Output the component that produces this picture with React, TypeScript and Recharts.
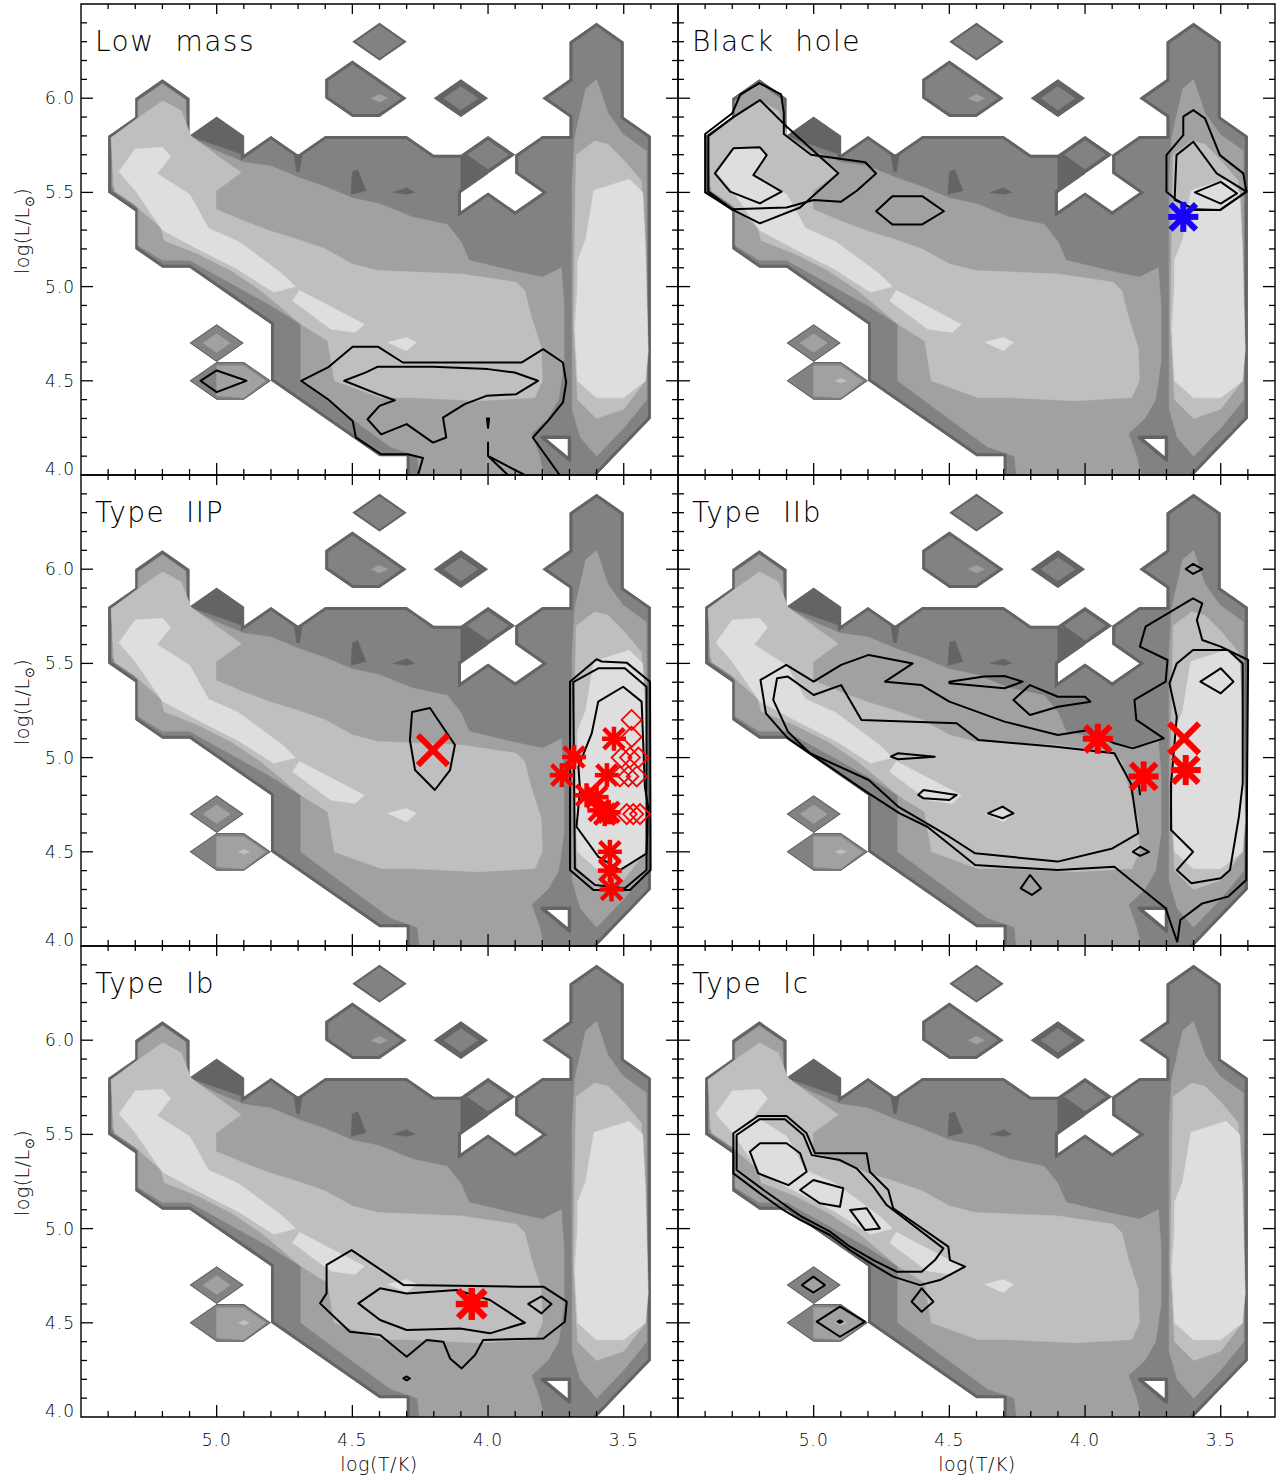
import React from 'react';
import { ScatterChart, Scatter, XAxis, YAxis } from 'recharts';

// ---------------- axes ----------------
const xDomain: [number, number] = [3.3, 5.5];
const yDomain: [number, number] = [4.0, 6.5];
const xMajorTicks = [5.0, 4.5, 4.0, 3.5];
const xMinorTicks = [5.4, 5.3, 5.2, 5.1, 4.9, 4.8, 4.7, 4.6, 4.4, 4.3, 4.2, 4.1, 3.9, 3.8, 3.7, 3.6, 3.4];
const yMajorTicks = [4.5, 5.0, 5.5, 6.0];
const yMinorTicks = [4.1, 4.2, 4.3, 4.4, 4.6, 4.7, 4.8, 4.9, 5.1, 5.2, 5.3, 5.4, 5.6, 5.7, 5.8, 5.9, 6.1, 6.2, 6.3, 6.4];
const xTickLabels = [5.0, 4.5, 4.0, 3.5];
const yTickLabels = [4.0, 4.5, 5.0, 5.5, 6.0];
const frameCorners = [[5.5, 4.0], [3.3, 4.0], [3.3, 6.5], [5.5, 6.5]];

// ---------------- shared background (filled density contours) ----------------
const bgOuterMain = [
  [5.4, 5.5], [5.4, 5.8], [5.3, 5.9], [5.3, 6.0], [5.2, 6.1], [5.1, 6.0], [5.1, 5.8], [5.0, 5.9], [4.9, 5.8], [4.9, 5.7],
  [4.8, 5.8], [4.7, 5.7], [4.6, 5.8], [4.3, 5.8], [4.2, 5.7], [4.1, 5.7], [4.0, 5.6], [4.1, 5.5], [4.1, 5.4], [4.0, 5.5],
  [3.9, 5.4], [3.8, 5.5], [3.9, 5.6], [3.9, 5.7], [3.8, 5.8], [3.7, 5.8], [3.7, 5.9], [3.8, 6.0], [3.7, 6.1], [3.7, 6.3],
  [3.6, 6.4], [3.5, 6.3], [3.5, 5.9], [3.4, 5.8], [3.4, 4.3], [3.6, 4.0], [3.6, 3.97], [4.3, 3.97], [4.3, 4.1], [4.4, 4.1],
  [4.8, 4.5], [4.8, 4.8], [5.1, 5.1], [5.2, 5.1], [5.3, 5.2], [5.3, 5.4],
];
const bgOuterDiamondTop = [[4.5, 6.3], [4.4, 6.4], [4.3, 6.3], [4.4, 6.2]];
const bgOuterBlob = [[4.6, 6.1], [4.5, 6.2], [4.4, 6.1], [4.3, 6.0], [4.4, 5.9], [4.5, 5.9], [4.6, 6.0]];
const bgOuterDiamondMid = [[4.2, 6.0], [4.1, 6.1], [4.0, 6.0], [4.1, 5.9]];
const bgOuterDiamondNotch = [[4.1, 5.7], [4.0, 5.8], [3.9, 5.7], [4.0, 5.6]];
const bgOuterDiamondLow = [[5.1, 4.7], [5.0, 4.8], [4.9, 4.7], [5.0, 4.6]];
const bgOuterHex = [[5.1, 4.5], [5.0, 4.6], [4.9, 4.6], [4.8, 4.5], [4.9, 4.4], [5.0, 4.4]];
const bgHoleBottom = [[3.8, 4.2], [3.7, 4.2], [3.7, 4.08]];

const bgDarkTop = [[5.1, 5.8], [5.0, 5.9], [4.9, 5.8], [4.9, 5.7]];
const bgDarkSpike = [[4.715, 5.7], [4.685, 5.7], [4.695, 5.61], [4.705, 5.61]];
const bgDarkSpot = [[4.5, 5.61], [4.48, 5.62], [4.45, 5.51], [4.505, 5.49]];
const bgDarkNotch = [[4.1, 5.7], [4.0, 5.6], [4.1, 5.5]];
const bgDarkSliver = [[4.35, 5.5], [4.3, 5.525], [4.27, 5.5], [4.3, 5.49]];
const bgDarkSliver2 = [[3.805, 4.95], [3.795, 4.95], [3.79, 4.87], [3.8, 4.85]];

const bgMidMain = [
  [5.385, 5.53], [5.385, 5.79], [5.29, 5.885], [5.29, 5.985], [5.2, 6.075], [5.115, 5.99], [5.11, 5.8], [5.0, 5.72],
  [4.9, 5.66], [4.8, 5.64], [4.7, 5.58], [4.6, 5.53], [4.5, 5.47], [4.4, 5.44], [4.28, 5.37], [4.15, 5.33], [4.1, 5.24],
  [4.07, 5.14], [3.9, 5.08], [3.8, 5.05], [3.73, 5.1], [3.72, 4.9], [3.72, 4.6], [3.74, 4.4], [3.78, 4.3], [3.84, 4.22],
  [3.81, 4.1], [3.79, 3.97], [4.25, 3.97], [4.26, 4.1], [4.36, 4.15], [4.55, 4.35], [4.69, 4.5], [4.69, 4.8], [4.8, 4.9],
  [5.1, 5.14], [5.2, 5.14], [5.29, 5.22], [5.29, 5.42],
];
const bgMidColumn = [
  [3.69, 5.55], [3.681, 5.79], [3.64, 6.05], [3.6, 6.1], [3.558, 5.92], [3.503, 5.81], [3.417, 5.72],
  [3.415, 4.4], [3.5, 4.25], [3.6, 4.1], [3.66, 4.2], [3.69, 4.35],
];
const bgMidBlob = [[4.43, 6.0], [4.4, 6.02], [4.37, 6.0], [4.4, 5.98]];
const bgMidDiamondLow = [[5.05, 4.7], [5.0, 4.75], [4.95, 4.7], [5.0, 4.65]];
const bgMidHex = [[5.0, 4.58], [4.9, 4.58], [4.82, 4.5], [4.9, 4.41], [5.0, 4.42]];

const bgLightMain = [
  [5.38, 5.55], [5.389, 5.79], [5.297, 5.888], [5.199, 5.986], [5.131, 5.933], [5.095, 5.8], [4.996, 5.693], [4.91, 5.605],
  [5.003, 5.507], [5.003, 5.41], [4.898, 5.347], [4.8, 5.294], [4.7, 5.25], [4.6, 5.2], [4.5, 5.12], [4.406, 5.085],
  [4.099, 5.067], [3.896, 5.023], [3.865, 4.979], [3.84, 4.837], [3.804, 4.677], [3.8, 4.5], [3.828, 4.411], [4.037, 4.394],
  [4.283, 4.411], [4.394, 4.411], [4.566, 4.5], [4.591, 4.713], [4.689, 4.8], [4.763, 4.89], [4.837, 4.979], [4.947, 5.085],
  [5.07, 5.174], [5.193, 5.245], [5.205, 5.312], [5.303, 5.436], [5.377, 5.507],
];
const bgLightColumn = [
  [3.675, 5.7], [3.607, 5.773], [3.558, 5.755], [3.497, 5.667], [3.435, 5.56], [3.42, 4.5], [3.5, 4.35], [3.6, 4.3],
  [3.67, 4.4], [3.685, 4.8], [3.68, 5.3],
];
const bgLightHex = [[4.92, 4.5], [4.9, 4.512], [4.88, 4.5], [4.9, 4.488]];

const bgPaleWing = [
  [5.36, 5.61], [5.3, 5.73], [5.2, 5.74], [5.17, 5.69], [5.22, 5.6], [5.1, 5.49], [5.03, 5.31], [4.92, 5.24], [4.76, 5.07],
  [4.71, 5.0], [4.79, 4.97], [4.92, 5.09], [5.07, 5.2], [5.2, 5.3], [5.3, 5.51],
];
const bgPaleStrip = [[4.72, 4.925], [4.695, 4.98], [4.456, 4.8], [4.49, 4.757], [4.58, 4.775]];
const bgPaleSpot = [[4.369, 4.704], [4.301, 4.73], [4.264, 4.704], [4.301, 4.66]];
const bgPaleColumn = [
  [3.61, 5.51], [3.48, 5.57], [3.43, 5.5], [3.42, 5.2], [3.41, 4.66], [3.42, 4.5], [3.5, 4.41], [3.6, 4.41], [3.67, 4.5],
  [3.68, 4.78], [3.67, 5.0], [3.67, 5.14], [3.64, 5.25],
];

const shade = { a: '#646464', b: '#828282', c: '#a1a1a1', d: '#bfbfbf', e: '#dedede' };

type BgLayer = { pts: number[][]; fill: string; band?: number; edge?: number };
const bgLayers: BgLayer[] = [
  { pts: bgOuterMain, fill: shade.b, band: 6 },
  { pts: bgOuterDiamondTop, fill: shade.b, band: 4 },
  { pts: bgOuterBlob, fill: shade.b, band: 6 },
  { pts: bgOuterDiamondMid, fill: shade.b, band: 11 },
  { pts: bgOuterDiamondNotch, fill: shade.b, band: 7 },
  { pts: bgOuterDiamondLow, fill: shade.b, band: 2 },
  { pts: bgOuterHex, fill: shade.b, band: 2 },
  { pts: bgDarkTop, fill: shade.a },
  { pts: bgDarkSpike, fill: shade.a },
  { pts: bgDarkSpot, fill: shade.a },
  { pts: bgDarkNotch, fill: shade.a },
  { pts: bgDarkSliver, fill: shade.a },
  { pts: bgDarkSliver2, fill: shade.a },
  { pts: bgHoleBottom, fill: '#ffffff', edge: 3.5 },
  { pts: bgMidMain, fill: shade.c },
  { pts: bgMidColumn, fill: shade.c },
  { pts: bgMidBlob, fill: shade.c },
  { pts: bgMidDiamondLow, fill: shade.c },
  { pts: bgMidHex, fill: shade.c },
  { pts: bgLightMain, fill: shade.d },
  { pts: bgLightColumn, fill: shade.d },
  { pts: bgLightHex, fill: shade.d },
  { pts: bgPaleWing, fill: shade.e },
  { pts: bgPaleStrip, fill: shade.e },
  { pts: bgPaleSpot, fill: shade.e },
  { pts: bgPaleColumn, fill: shade.e },
];

// ---------------- per-panel contour lines ----------------
// Low mass
const lowMassDiamond = [[5.06, 4.5], [5.0, 4.555], [4.89, 4.5], [5.0, 4.44]];
const lowMassOuter = [
  [4.258, 4.0], [4.24, 4.09], [4.295, 4.11], [4.394, 4.11], [4.487, 4.2], [4.499, 4.287], [4.591, 4.403], [4.689, 4.5],
  [4.59, 4.571], [4.499, 4.681], [4.406, 4.681], [4.314, 4.597], [3.877, 4.597], [3.797, 4.668], [3.724, 4.597],
  [3.712, 4.491], [3.724, 4.385], [3.779, 4.287], [3.835, 4.199], [3.736, 4.0],
];
const lowMassInner = [
  [4.53, 4.5], [4.45, 4.545], [4.406, 4.575], [4.203, 4.575], [4.0, 4.562], [3.902, 4.544], [3.816, 4.5], [3.896, 4.429],
  [4.006, 4.42], [4.086, 4.376], [4.166, 4.305], [4.154, 4.199], [4.203, 4.172], [4.3, 4.27], [4.394, 4.216],
  [4.444, 4.296], [4.4, 4.367], [4.344, 4.397], [4.406, 4.429],
];
const lowMassFork = [[3.927, 4.0], [4.0, 4.101], [4.0, 4.172], [4.0, 4.101], [3.865, 4.0]];
const lowMassTiny = [[4.004, 4.3], [3.996, 4.3], [4.0, 4.25]];

// Black hole
const bhOuter = [
  [5.4, 5.81], [5.3, 5.92], [5.27, 6.02], [5.2, 6.08], [5.12, 6.02], [5.11, 5.92], [5.11, 5.81], [5.01, 5.7], [4.81, 5.66],
  [4.77, 5.6], [4.84, 5.51], [4.9, 5.45], [5.0, 5.46], [5.1, 5.42], [5.3, 5.41], [5.4, 5.5],
];
const bhMiddle = [
  [5.388, 5.8], [5.296, 5.9], [5.198, 5.99], [5.1, 5.85], [5.0, 5.72], [4.909, 5.601], [5.05, 5.42], [5.198, 5.336],
  [5.296, 5.406], [5.388, 5.504],
];
const bhInner = [
  [5.364, 5.601], [5.296, 5.734], [5.198, 5.739], [5.173, 5.698], [5.222, 5.592], [5.118, 5.504], [5.198, 5.442],
  [5.308, 5.504],
];
const bhHex = [[4.77, 5.4], [4.71, 5.48], [4.6, 5.48], [4.52, 5.4], [4.6, 5.33], [4.71, 5.33]];
const bhColOuter = [
  [3.7, 5.504], [3.7, 5.698], [3.638, 5.804], [3.638, 5.902], [3.601, 5.937], [3.558, 5.893], [3.503, 5.698],
  [3.417, 5.601], [3.405, 5.504], [3.503, 5.406], [3.595, 5.406], [3.663, 5.46],
];
const bhColInner = [[3.67, 5.46], [3.663, 5.698], [3.601, 5.769], [3.515, 5.601], [3.405, 5.504], [3.503, 5.406], [3.595, 5.41]];
const bhColDiamond = [[3.595, 5.5], [3.5, 5.556], [3.44, 5.495], [3.5, 5.44]];

// Type IIP
const iipLoop = [[4.28, 5.242], [4.214, 5.263], [4.122, 5.067], [4.14, 4.934], [4.196, 4.828], [4.269, 4.934], [4.288, 5.093]];
const iipColOuter = [
  [3.698, 5.403], [3.6, 5.522], [3.581, 5.51], [3.489, 5.504], [3.403, 5.403], [3.401, 4.403], [3.477, 4.297],
  [3.612, 4.297], [3.698, 4.403],
];
const iipColMiddle = [
  [3.686, 5.4], [3.594, 5.474], [3.496, 5.474], [3.416, 5.376], [3.416, 4.403], [3.496, 4.306], [3.606, 4.324], [3.68, 4.412],
];
const iipColInner = [
  [3.594, 5.297], [3.502, 5.376], [3.434, 5.297], [3.422, 4.845], [3.41, 4.739], [3.416, 4.491], [3.514, 4.403],
  [3.594, 4.474], [3.674, 4.633], [3.661, 4.828], [3.667, 4.952], [3.618, 5.128],
];

// Type IIb
const iibOuter = [
  [3.66, 4.02], [3.703, 4.2], [3.892, 4.421], [4.101, 4.403], [4.405, 4.43], [4.581, 4.633], [4.683, 4.704], [4.797, 4.81],
  [5.095, 5.102], [5.176, 5.235], [5.196, 5.412], [5.101, 5.492], [5.0, 5.403], [4.899, 5.492], [4.797, 5.545],
  [4.635, 5.5], [4.737, 5.403], [4.602, 5.385], [4.5, 5.297], [4.297, 5.191], [4.1, 5.12], [3.987, 5.146], [3.892, 5.076],
  [3.824, 5.049], [3.71, 5.102], [3.811, 5.2], [3.818, 5.306], [3.703, 5.403], [3.696, 5.518], [3.798, 5.589],
  [3.777, 5.695], [3.602, 5.845], [3.568, 5.819], [3.588, 5.73], [3.568, 5.624], [3.5, 5.589], [3.399, 5.518],
  [3.406, 4.35], [3.473, 4.262], [3.568, 4.226], [3.649, 4.138], [3.66, 4.02],
];
const iibInner = [
  [5.149, 5.306], [5.135, 5.421], [5.095, 5.43], [5.0, 5.332], [4.899, 5.385], [4.824, 5.2], [4.473, 5.182], [4.392, 5.093],
  [4.108, 5.058], [3.892, 5.023], [3.831, 4.863], [3.804, 4.598], [3.899, 4.518], [4.101, 4.448], [4.405, 4.492],
  [4.5, 4.58], [4.689, 4.74], [4.797, 4.881], [4.905, 4.952], [5.014, 5.023], [5.095, 5.138],
];
const iibColInner = [
  [3.662, 5.5], [3.602, 5.571], [3.473, 5.571], [3.419, 5.5], [3.419, 4.863], [3.433, 4.687], [3.466, 4.403], [3.5, 4.359],
  [3.608, 4.333], [3.662, 4.403], [3.602, 4.5], [3.683, 4.616], [3.683, 4.863], [3.662, 5.217], [3.689, 5.394],
];
const iibColDiamond = [[3.575, 5.403], [3.5, 5.474], [3.453, 5.403], [3.5, 5.341]];
const iibTopDiamond = [[3.629, 6.001], [3.602, 6.028], [3.568, 6.001], [3.602, 5.975]];
const iibLens1 = [[4.5, 5.403], [4.372, 5.43], [4.297, 5.433], [4.23, 5.403], [4.297, 5.368], [4.5, 5.394]];
const iibPatch = [[4.264, 5.306], [4.203, 5.385], [4.1, 5.323], [4.0, 5.323], [3.98, 5.297], [4.1, 5.27], [4.203, 5.226]];
const iibLens2 = [[4.716, 5.005], [4.689, 5.023], [4.554, 5.005], [4.689, 4.991]];
const iibLens3 = [[4.615, 4.802], [4.595, 4.828], [4.473, 4.802], [4.5, 4.775], [4.595, 4.784]];
const iibDia1 = [[4.358, 4.704], [4.304, 4.74], [4.264, 4.704], [4.304, 4.678]];
const iibDia2 = [[3.824, 4.5], [3.797, 4.527], [3.764, 4.5], [3.797, 4.478]];
const iibDia3 = [[4.237, 4.306], [4.203, 4.377], [4.162, 4.306], [4.196, 4.271]];
const iibTick = [[3.804, 4.881], [3.797, 4.801]];

// Type Ib
const ibOuter = [
  [4.595, 4.807], [4.503, 4.886], [4.312, 4.701], [3.895, 4.692], [3.796, 4.692], [3.71, 4.612], [3.717, 4.506],
  [3.796, 4.417], [4.018, 4.409], [4.048, 4.329], [4.097, 4.258], [4.14, 4.311], [4.165, 4.4], [4.226, 4.409], [4.3, 4.32],
  [4.398, 4.435], [4.509, 4.453], [4.619, 4.603], [4.595, 4.656],
];
const ibInner = [
  [4.478, 4.603], [4.398, 4.683], [4.3, 4.656], [4.116, 4.674], [3.993, 4.621], [3.864, 4.5], [3.993, 4.444], [4.103, 4.47],
  [4.3, 4.462], [4.398, 4.515],
];
const ibDiamond = [[3.852, 4.6], [3.803, 4.64], [3.766, 4.6], [3.803, 4.55]];
const ibTiny = [[4.312, 4.205], [4.3, 4.215], [4.288, 4.205], [4.3, 4.195]];

// Type Ic
const icOuter = [
  [5.296, 5.506], [5.204, 5.598], [5.1, 5.598], [5.026, 5.506], [4.995, 5.4], [4.805, 5.4], [4.793, 5.302], [4.725, 5.205],
  [4.707, 5.108], [4.504, 4.904], [4.498, 4.833], [4.442, 4.798], [4.535, 4.727], [4.608, 4.7], [4.707, 4.745],
  [4.78, 4.807], [4.866, 4.886], [4.94, 4.966], [5.05, 5.046], [5.112, 5.099], [5.198, 5.187], [5.296, 5.293],
];
const icMiddle = [
  [5.284, 5.497], [5.2, 5.58], [5.106, 5.58], [5.038, 5.497], [5.007, 5.39], [4.903, 5.364], [4.842, 5.32], [4.78, 5.223],
  [4.731, 5.125], [4.522, 4.895], [4.553, 4.833], [4.602, 4.771], [4.694, 4.771], [4.78, 4.833], [4.866, 4.904],
  [4.94, 4.984], [5.044, 5.063], [5.185, 5.205], [5.284, 5.311],
];
const icCore1 = [[5.235, 5.408], [5.198, 5.453], [5.1, 5.453], [5.05, 5.4], [5.026, 5.302], [5.093, 5.231], [5.204, 5.293]];
const icCore2 = [[5.05, 5.205], [5.001, 5.258], [4.891, 5.214], [4.903, 5.116], [4.977, 5.134]];
const icCore3 = [[4.866, 5.099], [4.805, 5.108], [4.756, 5.001], [4.811, 4.993]];
const icDiamondLow = [[4.639, 4.612], [4.602, 4.683], [4.559, 4.612], [4.602, 4.559]];
const icDiamondLeft = [[5.044, 4.7], [5.001, 4.745], [4.958, 4.7], [5.001, 4.66]];
const icDiamondHex = [[4.989, 4.506], [4.903, 4.586], [4.811, 4.506], [4.903, 4.426]];
const icDot = [[4.912, 4.506], [4.903, 4.513], [4.894, 4.506], [4.903, 4.499]];

// ---------------- markers ----------------
const bhStars = [[3.638, 5.37]];
const iipStars = [
  [3.536, 5.1], [3.683, 5.003], [3.728, 4.907], [3.562, 4.907], [3.637, 4.8], [3.6, 4.79], [3.59, 4.72], [3.57, 4.7],
  [3.555, 4.71], [3.551, 4.5], [3.551, 4.4], [3.545, 4.3],
];
const iipCrosses = [[4.203, 5.04]];
const iipDiamonds = [
  [3.471, 5.2], [3.471, 5.11], [3.508, 5.0], [3.477, 5.0], [3.446, 5.0], [3.514, 4.9], [3.483, 4.9], [3.452, 4.9],
  [3.489, 4.7], [3.465, 4.7], [3.44, 4.7],
];
const iibStars = [[3.953, 5.1], [3.784, 4.9], [3.629, 4.934]];
const iibCrosses = [[3.635, 5.102]];
const ibStars = [[4.06, 4.6]];

// ---------------- panels ----------------
const panelTitles = ['Low mass', 'Black hole', 'Type IIP', 'Type IIb', 'Type Ib', 'Type Ic'];

type LineSpec = { pts: number[][]; closed: boolean; w?: number };
type MarkSpec = { pts: number[][]; kind: 'star' | 'cross' | 'diamond'; r: number; w: number; color: string };

const panelLines: LineSpec[][] = [
  [
    { pts: lowMassDiamond, closed: true }, { pts: lowMassOuter, closed: false }, { pts: lowMassInner, closed: true },
    { pts: lowMassFork, closed: false }, { pts: lowMassTiny, closed: true },
  ],
  [
    { pts: bhOuter, closed: true }, { pts: bhMiddle, closed: true }, { pts: bhInner, closed: true }, { pts: bhHex, closed: true },
    { pts: bhColOuter, closed: true }, { pts: bhColInner, closed: true }, { pts: bhColDiamond, closed: true },
  ],
  [
    { pts: iipLoop, closed: true }, { pts: iipColOuter, closed: true }, { pts: iipColMiddle, closed: true },
    { pts: iipColInner, closed: true },
  ],
  [
    { pts: iibOuter, closed: false }, { pts: iibInner, closed: true }, { pts: iibColInner, closed: true },
    { pts: iibColDiamond, closed: true }, { pts: iibTopDiamond, closed: true }, { pts: iibLens1, closed: true },
    { pts: iibPatch, closed: true }, { pts: iibLens2, closed: true }, { pts: iibLens3, closed: true },
    { pts: iibDia1, closed: true }, { pts: iibDia2, closed: true }, { pts: iibDia3, closed: true },
    { pts: iibTick, closed: false },
  ],
  [
    { pts: ibOuter, closed: true }, { pts: ibInner, closed: true }, { pts: ibDiamond, closed: true }, { pts: ibTiny, closed: true },
  ],
  [
    { pts: icOuter, closed: true }, { pts: icMiddle, closed: true }, { pts: icCore1, closed: true },
    { pts: icCore2, closed: true }, { pts: icCore3, closed: true }, { pts: icDiamondLow, closed: true },
    { pts: icDiamondLeft, closed: true }, { pts: icDiamondHex, closed: true }, { pts: icDot, closed: true },
  ],
];

const panelMarks: MarkSpec[][] = [
  [],
  [{ pts: bhStars, kind: 'star', r: 15, w: 6, color: '#1a00ff' }],
  [
    { pts: iipDiamonds, kind: 'diamond', r: 10, w: 1.8, color: '#ff0000' },
    { pts: iipStars, kind: 'star', r: 12, w: 4.5, color: '#ff0000' },
    { pts: iipCrosses, kind: 'cross', r: 15, w: 6, color: '#ff0000' },
  ],
  [
    { pts: iibStars, kind: 'star', r: 15, w: 6, color: '#ff0000' },
    { pts: iibCrosses, kind: 'cross', r: 15, w: 6, color: '#ff0000' },
  ],
  [{ pts: ibStars, kind: 'star', r: 16, w: 6.5, color: '#ff0000' }],
  [],
];

// ---------------- helpers ----------------
const toXY = (arr: number[][]) => arr.map(([x, y]) => ({ x, y }));
const pathOf = (pts: any[], closed: boolean) =>
  pts.map((p, i) => `${i ? 'L' : 'M'}${p.x.toFixed(2)},${p.y.toFixed(2)}`).join(' ') + (closed ? ' Z' : '');
const NoShape = () => <g />;

function fillLine(layer: BgLayer, clipId: string) {
  return (props: any) => {
    const pts = props.points || [];
    if (!pts.length) return <g />;
    const d = pathOf(pts, true);
    if (layer.band) {
      return (
        <g>
          <defs>
            <clipPath id={clipId}>
              <path d={d} />
            </clipPath>
          </defs>
          <path d={d} fill={layer.fill} stroke={shade.a} strokeWidth={layer.band} clipPath={`url(#${clipId})`} />
        </g>
      );
    }
    if (layer.edge) {
      return <path d={d} fill={layer.fill} stroke={shade.a} strokeWidth={layer.edge} strokeLinejoin="round" />;
    }
    return <path d={d} fill={layer.fill} stroke={layer.fill} strokeWidth={0.6} strokeLinejoin="round" />;
  };
}

function strokeLine(closed: boolean, w: number) {
  return (props: any) => {
    const pts = props.points || [];
    if (!pts.length) return <g />;
    return <path d={pathOf(pts, closed)} fill="none" stroke="#000" strokeWidth={w} strokeLinejoin="round" />;
  };
}

function markShape(m: MarkSpec) {
  return (p: any) => {
    const { cx, cy } = p;
    const r = m.r;
    if (m.kind === 'star') {
      const q = r * 0.85;
      return (
        <g stroke={m.color} strokeWidth={m.w}>
          <line x1={cx} y1={cy - r} x2={cx} y2={cy + r} />
          <line x1={cx - r} y1={cy} x2={cx + r} y2={cy} />
          <line x1={cx - q} y1={cy - q} x2={cx + q} y2={cy + q} />
          <line x1={cx - q} y1={cy + q} x2={cx + q} y2={cy - q} />
        </g>
      );
    }
    if (m.kind === 'cross') {
      return (
        <g stroke={m.color} strokeWidth={m.w}>
          <line x1={cx - r} y1={cy - r} x2={cx + r} y2={cy + r} />
          <line x1={cx - r} y1={cy + r} x2={cx + r} y2={cy - r} />
        </g>
      );
    }
    return (
      <path d={`M${cx - r},${cy} L${cx},${cy - r} L${cx + r},${cy} L${cx},${cy + r} Z`} fill="none" stroke={m.color} strokeWidth={m.w} />
    );
  };
}

const tickShape = (dir: 'up' | 'down' | 'right' | 'left', len: number) => (p: any) => {
  const { cx, cy } = p;
  const x2 = dir === 'right' ? cx + len : dir === 'left' ? cx - len : cx;
  const y2 = dir === 'up' ? cy - len : dir === 'down' ? cy + len : cy;
  return <line x1={cx} y1={cy} x2={x2} y2={y2} stroke="#000" strokeWidth={1.3} />;
};

const FONT = '"DejaVu Sans", "Liberation Sans", sans-serif';

const xLabelShape = (p: any) => (
  <text x={p.cx} y={p.cy + 29} textAnchor="middle" fontFamily={FONT} fontSize={17} fontWeight={300} letterSpacing={1} fill="#000">
    {p.payload.x.toFixed(1)}
  </text>
);
const yLabelShape = (p: any) => (
  <text x={p.cx - 6} y={p.cy + 6 + (p.payload.y === 4.0 ? -6 : 0)} textAnchor="end" fontFamily={FONT} fontSize={17} fontWeight={300} letterSpacing={1} fill="#000">
    {p.payload.y.toFixed(1)}
  </text>
);

const frameLine = (props: any) => {
  const pts = props.points || [];
  if (!pts.length) return <g />;
  return <path d={pathOf(pts, true)} fill="none" stroke="#000" strokeWidth={1.4} />;
};

const colGeom = [
  { left: 0, width: 681, ml: 81, mr: 3 },
  { left: 675, width: 603, ml: 3, mr: 3 },
];
const rowGeom = [
  { top: 0, mt: 4, mb: 3 },
  { top: 472, mt: 3, mb: 3 },
  { top: 943, mt: 3, mb: 40 },
];
const PLOT_H = 471;

function renderPanel(idx: number) {
  const col = idx % 2;
  const row = Math.floor(idx / 2);
  const cg = colGeom[col];
  const rg = rowGeom[row];
  const key = `p${idx}`;
  const series: React.ReactNode[] = [];

  bgLayers.forEach((layer, i) => {
    series.push(
      <Scatter key={`${key}-bg${i}`} data={toXY(layer.pts)} xAxisId="m" yAxisId="m" shape={NoShape}
        line={fillLine(layer, `${key}-clip${i}`)} lineType="joint" isAnimationActive={false} legendType="none" />
    );
  });
  panelLines[idx].forEach((ln, i) => {
    series.push(
      <Scatter key={`${key}-ln${i}`} data={toXY(ln.pts)} xAxisId="m" yAxisId="m" shape={NoShape}
        line={strokeLine(ln.closed, ln.w || 2)} lineType="joint" isAnimationActive={false} legendType="none" />
    );
  });
  panelMarks[idx].forEach((m, i) => {
    series.push(
      <Scatter key={`${key}-mk${i}`} data={toXY(m.pts)} xAxisId="f" yAxisId="f" shape={markShape(m)}
        isAnimationActive={false} legendType="none" />
    );
  });
  series.push(
    <Scatter key={`${key}-frame`} data={toXY(frameCorners)} xAxisId="f" yAxisId="f" shape={NoShape}
      line={frameLine} lineType="joint" isAnimationActive={false} legendType="none" />
  );
  const tickSets: [number[][], 'up' | 'down' | 'right' | 'left', number][] = [
    [xMajorTicks.map((t) => [t, 4.0]), 'up', 12],
    [xMinorTicks.map((t) => [t, 4.0]), 'up', 6],
    [xMajorTicks.map((t) => [t, 6.5]), 'down', 10],
    [xMinorTicks.map((t) => [t, 6.5]), 'down', 5],
    [yMajorTicks.map((t) => [5.5, t]), 'right', 12],
    [yMinorTicks.map((t) => [5.5, t]), 'right', 6],
    [yMajorTicks.map((t) => [3.3, t]), 'left', 12],
    [yMinorTicks.map((t) => [3.3, t]), 'left', 6],
  ];
  tickSets.forEach(([pts, dir, len], i) => {
    series.push(
      <Scatter key={`${key}-tk${i}`} data={toXY(pts)} xAxisId="f" yAxisId="f" shape={tickShape(dir, len)}
        isAnimationActive={false} legendType="none" />
    );
  });
  if (row === 2) {
    series.push(
      <Scatter key={`${key}-xl`} data={toXY(xTickLabels.map((t) => [t, 4.0]))} xAxisId="f" yAxisId="f" shape={xLabelShape}
        isAnimationActive={false} legendType="none" />
    );
  }
  if (col === 0) {
    series.push(
      <Scatter key={`${key}-yl`} data={toXY(yTickLabels.map((t) => [5.5, t]))} xAxisId="f" yAxisId="f" shape={yLabelShape}
        isAnimationActive={false} legendType="none" />
    );
  }

  const height = rg.mt + PLOT_H + rg.mb;
  return (
    <div key={key} style={{ position: 'absolute', left: cg.left, top: rg.top, width: cg.width, height }}>
      <ScatterChart width={cg.width} height={height} margin={{ top: rg.mt, right: cg.mr, bottom: rg.mb, left: cg.ml }}>
        <XAxis xAxisId="m" dataKey="x" type="number" domain={xDomain} reversed allowDataOverflow hide />
        <YAxis yAxisId="m" dataKey="y" type="number" domain={yDomain} allowDataOverflow hide />
        <XAxis xAxisId="f" dataKey="x" type="number" domain={xDomain} reversed hide />
        <YAxis yAxisId="f" dataKey="y" type="number" domain={yDomain} hide />
        {series}
      </ScatterChart>
      <div
        style={{
          position: 'absolute', left: cg.ml + 14, top: rg.mt + 21, fontFamily: FONT, fontSize: 28, fontWeight: 200,
          letterSpacing: 1.5, color: '#000', whiteSpace: 'pre', lineHeight: '34px',
        }}
      >
        {panelTitles[idx].replace(' ', '  ')}
      </div>
    </div>
  );
}

export default function App() {
  return (
    <div style={{ position: 'absolute', left: 0, top: 0, width: 1281, height: 1479, background: '#fff', overflow: 'hidden' }}>
      {[0, 1, 2, 3, 4, 5].map((i) => renderPanel(i))}
      {[379, 977].map((cx) => (
        <div key={cx} style={{ position: 'absolute', left: cx - 80, top: 1452, width: 160, textAlign: 'center', fontFamily: FONT, fontSize: 19, fontWeight: 300, letterSpacing: 0.5, lineHeight: '24px' }}>
          log(T/K)
        </div>
      ))}
      {[231, 702, 1173].map((cy) => (
        <div key={cy} style={{ position: 'absolute', left: 22 - 80, top: cy - 12, width: 160, height: 24, textAlign: 'center', fontFamily: FONT, fontSize: 19, fontWeight: 300, letterSpacing: 0.5, lineHeight: '24px', transform: 'rotate(-90deg)' }}>
          log(L/L<sub style={{ fontSize: 13 }}>⊙</sub>)
        </div>
      ))}
    </div>
  );
}
